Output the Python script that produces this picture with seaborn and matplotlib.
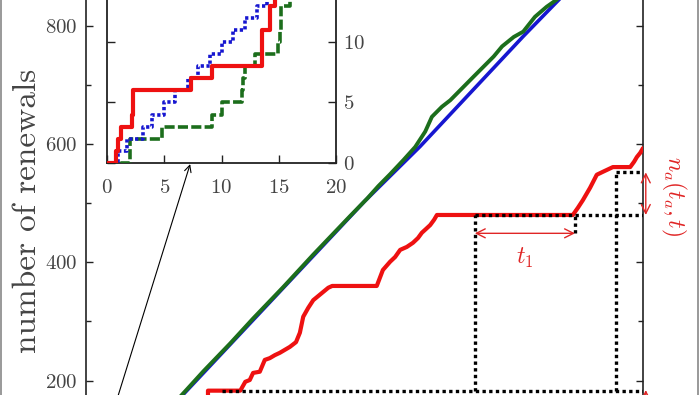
import matplotlib
matplotlib.use("Agg")
import matplotlib.pyplot as plt
import seaborn as sns
from matplotlib.lines import Line2D
from matplotlib.ticker import MultipleLocator

# ---------------- data ----------------
# main panel: time t (0..1000) vs number of renewals
blue_t = [0, 170, 500, 600, 785, 1000]
blue_n = [0, 172, 503, 596, 782, 990]

green_t = [0, 181, 211, 259, 300, 354, 408, 475, 505, 525, 546, 570, 591, 609,
           621, 639, 654, 675, 696, 714, 732, 747, 768, 785, 806, 827, 845, 1000]
green_n = [0, 185, 216, 263, 305, 358, 413, 479, 508, 529, 549, 573, 595, 621,
           646, 663, 674, 694, 714, 731, 748, 765, 781, 790, 815, 832, 844, 1000]

red_t = [219, 219, 277, 286, 294, 300, 312, 321, 330, 339, 348, 357, 366, 377,
         384, 390, 399, 408, 417, 426, 435, 442, 522, 533, 546, 555, 564, 576,
         587, 596, 603, 610, 618, 625, 630, 874, 883, 892, 905, 917, 928, 946,
         977, 984, 989, 995, 1000]
red_n = [160, 183, 183, 198, 201, 213, 215, 235, 238, 243, 247, 252, 257, 265,
         281, 308, 323, 336, 343, 350, 357, 360, 360, 387, 401, 409, 421, 426,
         433, 441, 450, 456, 463, 472, 480, 480, 492, 505, 526, 548, 553, 561,
         561, 570, 578, 585, 593]

# annotation guide values
t_start_guide = 244
t_a = 698
t_a_plus_t1 = 878
t_now = 951
n_low = 182
n_ta = 480
n_t = 552
n_t1_arrow = 449

# inset: first 20 time units
red_in_t = [0, 0.8, 0.9, 1.17, 2.13, 2.28, 7.3, 9.14, 13.52, 14.25, 14.7, 20]
red_in_n = [0, 1, 2, 3, 4, 6, 7, 8, 11, 13, 16, 16]

blue_in_t = [0, 0.97, 1.75, 3.1, 3.95, 5.0, 5.9, 7.07, 7.98, 9.0, 10.0, 11.0,
             12.06, 13.08, 13.96, 20]
blue_in_n = [0, 1, 2, 3, 4, 5, 6, 7, 8, 9, 10, 11, 12, 13, 14, 14]

green_in_t = [0, 1.99, 4.76, 9.2, 10.05, 11.77, 11.9, 12.06, 12.93, 14.98,
              15.1, 15.2, 15.25, 16.0, 20]
green_in_n = [0, 2, 3, 4, 5, 6, 7, 8, 9, 10, 11, 12, 13, 14, 14]

main_yticks = [200, 400, 600, 800]
inset_xticks = [0, 5, 10, 15, 20]
inset_yticks = [0, 5, 10]

# ---------------- style ----------------
sns.set_theme(style="white")
plt.rcParams.update({
    "font.family": ["serif"],
    "font.serif": ["cmr10", "DejaVu Serif"],
    "mathtext.fontset": "cm",
    "axes.formatter.use_mathtext": True,
    "axes.unicode_minus": False,
})

RED = "#ee1111"
BLUE = "#1616d0"
GREEN = "#1c6e1c"
TXT = "#444444"
ANN_RED = "#e02525"

fig = plt.figure(figsize=(7, 3.95), dpi=100)
ax = fig.add_axes([86 / 700, 1 - 498.9 / 395, 557 / 700, 591.5 / 395])

sns.lineplot(x=blue_t, y=blue_n, ax=ax, color=BLUE, linewidth=2.6,
             estimator=None, sort=False, zorder=3)
sns.lineplot(x=green_t, y=green_n, ax=ax, color=GREEN, linewidth=2.8,
             estimator=None, sort=False, zorder=4)
sns.lineplot(x=red_t, y=red_n, ax=ax, color=RED, linewidth=3.0,
             estimator=None, sort=False, zorder=4)

dot = dict(color="black", linewidth=2.4, linestyle=(0, (1, 1)), zorder=5)
ax.hlines(n_low, t_start_guide, 1000, **dot)
ax.vlines(t_a, n_low, n_ta, **dot)
ax.hlines(n_ta, t_a, 1000, **dot)
ax.vlines(t_a_plus_t1, n_t1_arrow, n_ta, **dot)
ax.vlines(t_now, n_low, n_t, **dot)
ax.hlines(n_t, t_now, 1000, **dot)

ax.set_xlim(0, 1000)
ax.set_ylim(0, 1000)
ax.set_xticks([])
ax.set_yticks(main_yticks)
ax.yaxis.set_minor_locator(MultipleLocator(100))
ax.tick_params(axis="y", which="both", direction="in", left=True, right=True,
               labelsize=15, labelcolor=TXT, color="#222222", pad=6.5)
ax.tick_params(axis="y", which="major", length=5, width=1)
ax.tick_params(axis="y", which="minor", length=3.5, width=1)
for s in ax.spines.values():
    s.set_color("#222222")
    s.set_linewidth(1.2)
ax.set_xlabel("")
ax.set_ylabel("number of renewals", fontsize=24, color=TXT)
ax.yaxis.set_label_coords(-0.079, 0.4867)

# annotations
ax.annotate("", xy=(t_a, n_t1_arrow), xytext=(t_a_plus_t1, n_t1_arrow),
            arrowprops=dict(arrowstyle="<->", color=ANN_RED, lw=1.0,
                            shrinkA=0, shrinkB=0, mutation_scale=16), zorder=6)
ax.text((t_a + t_a_plus_t1) / 2, 408, r"$t_1$", color=ANN_RED, fontsize=17,
        ha="center", va="center")
ax.annotate("", xy=(1005, n_ta), xytext=(1005, n_t),
            arrowprops=dict(arrowstyle="<->", color=ANN_RED, lw=1.0,
                            shrinkA=0, shrinkB=0, mutation_scale=16),
            annotation_clip=False)
ax.annotate("", xy=(1005, n_low + 2), xytext=(1005, 80),
            arrowprops=dict(arrowstyle="->", color=ANN_RED, lw=1.0,
                            shrinkA=0, shrinkB=0, mutation_scale=16),
            annotation_clip=False)
ax.text(1054, (n_ta + n_t) / 2 - 4, r"$n_a(t_a,t)$", rotation=-90, color=ANN_RED,
        fontsize=17, ha="center", va="center", clip_on=False)
ax.annotate("", xy=(187, 566), xytext=(0, 0),
            arrowprops=dict(arrowstyle="->", color="black", lw=0.8,
                            shrinkA=0, shrinkB=0, mutation_scale=12),
            annotation_clip=False, zorder=7)

# ---------------- inset ----------------
axi = fig.add_axes([107.3 / 700, 1 - 162.7 / 395, 228.4 / 700, 15 * 12.04 / 395])
axi.set_facecolor("white")
sns.lineplot(x=green_in_t, y=green_in_n, ax=axi, color=GREEN, linewidth=2.6,
             drawstyle="steps-post", linestyle=(0, (2.8, 0.9)),
             estimator=None, sort=False, zorder=3)
sns.lineplot(x=blue_in_t, y=blue_in_n, ax=axi, color=BLUE, linewidth=2.6,
             drawstyle="steps-post", linestyle=(0, (0.9, 0.7)),
             estimator=None, sort=False, zorder=3)
sns.lineplot(x=red_in_t, y=red_in_n, ax=axi, color=RED, linewidth=3.0,
             drawstyle="steps-post", estimator=None, sort=False, zorder=4)
axi.set_xlim(0, 20)
axi.set_ylim(0, 15)
axi.set_xticks(inset_xticks)
axi.set_yticks(inset_yticks)
axi.set_xlabel("")
axi.set_ylabel("")
axi.tick_params(axis="x", direction="in", bottom=True, top=True, length=6,
                width=1, labelsize=15, labelcolor=TXT, color="#222222", pad=11.5)
axi.tick_params(axis="y", direction="in", left=True, right=True,
                labelleft=False, labelright=True, length=6, width=1,
                labelsize=15, labelcolor=TXT, color="#222222", pad=5)
for s in axi.spines.values():
    s.set_color("#222222")
    s.set_linewidth(1.3)

# thin frame lines at the picture edges
fig.add_artist(Line2D([0.0015, 0.0015], [0, 1], transform=fig.transFigure,
                      color="#888888", lw=1.2))
fig.add_artist(Line2D([0.9975, 0.9975], [0, 1], transform=fig.transFigure,
                      color="#888888", lw=1.2))

fig.savefig("out.png", dpi=100)
